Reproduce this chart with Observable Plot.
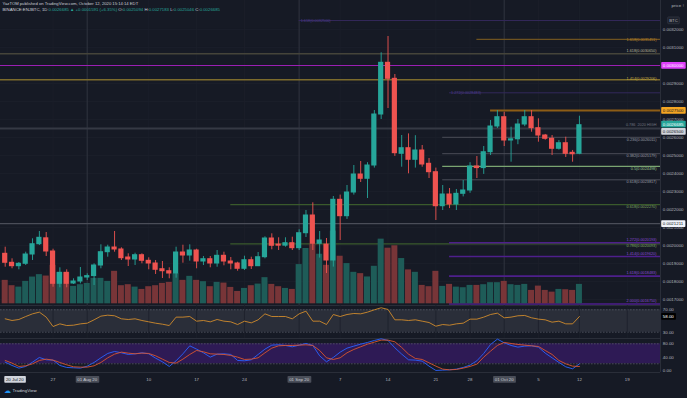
<!DOCTYPE html>
<html><head><meta charset="utf-8">
<script src="https://cdn.jsdelivr.net/npm/d3@7"></script>
<script src="https://cdn.jsdelivr.net/npm/@observablehq/plot@0.6"></script>
<style>
html,body{margin:0;padding:0;background:#161a25;}
#chart{position:relative;width:687px;height:398px;overflow:hidden;background:#161a25;}
#chart svg{position:absolute;left:0;}
</style></head><body><div id="chart"></div>
<script>
// ---- DATA (prices in units of 1e-7 BTC) ----
const headerLine1 = "YazTOM published on TradingView.com, October 12, 2020 15:14:14 EDT";
const headerLine2 = ["BINANCE:ENJBTC, 1D ", "0.0026685 ▲ +0.0001591 (+6.35%) ", "O:", "0.0025094 ", "H:", "0.0027183 ", "L:", "0.0025046 ", "C:", "0.0026685"];
const opens  = [19539,19039,18850,18983,19500,20072,20400,19667,17872,18483,17889,18000,18222,18300,18889,19628,19889,19778,19333,19222,19461,19150,19000,18683,18572,18444,19611,19444,19722,19111,19239,19000,19428,19111,19000,18706,19183,18850,19350,20389,20050,19990,20128,19850,20683,21667,20094,20050,19167,22539,21628,22944,23944,23706,24444,27278,30150,29261,25094,25406,24761,25278,24539,24072,22183,22833,22278,22872,23056,24389,24300,25183,26611,27128,25833,25900,26722,27128,26517,26111,25928,25372,25683,25150,25094];
const highs  = [19906,19261,19056,19628,20372,20778,20722,19794,18761,18650,18150,18778,18428,18983,20039,20017,20778,19872,19539,19572,19539,19317,19167,19111,18761,19906,20017,20039,19794,19389,19389,19722,19628,19333,19072,19406,19350,19611,20483,20650,20428,20428,20461,20872,21944,22372,20778,20389,22722,22800,23333,24444,24667,24600,27500,30706,31611,29500,26111,26200,26100,25556,24833,24300,23333,23167,23111,23611,24600,24944,25500,26944,27500,27400,26572,27000,27500,27500,27039,26170,26111,25830,26017,25280,27183];
const lows   = [18794,18706,18650,18889,19167,20000,19389,17683,17650,17650,17833,17870,18056,17778,18706,19350,19628,19167,18833,18889,18983,18650,18389,18167,18150,18183,19017,19128,18706,18889,18761,18794,18872,18650,18572,18611,18667,18830,19260,19761,19722,19906,19722,19722,20444,19722,19300,18444,18800,20278,21450,22800,23500,22611,24300,27000,27611,24950,24350,23983,24300,24350,23722,21389,21944,22050,21944,22700,22900,23722,23950,25000,26500,25500,24628,25600,26600,26294,25739,25850,25000,25300,24889,24628,25046];
const closes = [19039,18850,18983,19500,20072,20428,19667,17872,18483,17872,18000,18222,18300,18889,19628,19889,19778,19294,19222,19461,19150,19000,18650,18572,18444,19611,19444,19722,19111,19239,19000,19428,19111,19000,18706,19183,18850,19350,20389,19983,19990,20128,19850,20683,21667,20094,20278,19167,22539,21628,22944,23944,23706,24444,27278,30150,29261,25128,25406,24761,25278,24500,24072,22183,22833,22278,22872,23056,24389,24300,25183,26611,27128,25833,25900,26722,27128,26517,26111,25928,25372,25683,25094,25070,26685];
const volumes = [23.3,18,16.6,22.3,26.6,29,27.6,38.3,31,31,17.3,19,20.3,25.3,25.3,22.3,32.3,18,19,16.6,14.3,17,18,20.3,21.3,30,23.3,27.3,23.3,22,17,21.3,20.6,16.3,12.3,15.3,18,19.6,26,19.3,17,15.3,14.3,39,55,59,49.3,38.3,72.3,47.3,40,31.3,30,26.7,37.3,64.3,55.3,57.7,45,33.7,31.3,18.3,17,32.3,17.3,19.3,16.6,16,18.3,18.3,19,21,21,22.3,19,18.3,19.3,13.3,17.6,13.3,11.6,14.3,14,13.3,19.3];
const rsiValues = [53.9,50.9,52.7,58,62.8,65.8,56.9,40.1,44.9,41.9,42.5,44.9,46.1,52.1,58.7,60.4,59.3,53.9,52.7,53.9,50.9,48.5,46.1,44.3,41.9,56.9,56.9,58,49.7,50.9,48.5,52.7,49.7,48.5,43.7,49.7,46.7,52.1,62.8,58,58,58,53.9,62.8,67.6,49.7,49.7,43.7,61.6,58,61.6,63.4,62.8,65.8,70,73.6,70.6,52.1,52.1,50.9,52.1,49.7,47.3,40.7,43.7,42.5,44.9,46.1,53.3,53.3,56.9,61.6,64,55.7,56.9,59.3,59.9,55.7,53.3,52.1,47.9,49.7,44.9,44.9,58];
const stochK = [25,15,7,12,25,39,32,31,15,9,8,7,13,24,38,51,57,53,48,50,53,50,37,26,12,29,50,74,64,53,40,49,50,48,30,29,32,48,64,76,77,75,71,76,81,75,44,26,39,55,67,73,79,84,90,95,90,68,49,32,31,28,13,0,1,2,4,9,16,29,51,78,94,83,75,70,73,74,70,52,38,24,11,5,20];
const stochD = [30,22,12,14,20,30,34,31,24,17,11,10,10,14,24,38,49,55,52,50,52,51,44,34,24,22,34,48,60,56,50,49,48,45,40,33,34,38,53,67,74,75,75,76,77,75,60,38,33,38,53,63,71,79,85,91,91,86,69,49,36,33,23,13,4,2,3,7,12,19,40,58,75,84,81,78,76,74,72,60,48,30,20,13,12];
const priceTicks = [17000,18000,19000,20000,21000,22000,23000,24000,25000,26000,27000,28000,29000,30000,31000,32000];
const priceTickHidden = [30000];
const rsiTicks = [70, 30];
const stochTicks = [80, 40, 0];
const timeTickIndex  = [0, 7, 12, 21, 28, 35, 43, 49, 56, 63, 68, 73, 78, 84, 91];
const timeTickLabels = ["20 Jul 20", "27", "01 Aug 20", "10", "17", "24", "01 Sep 20", "7", "14", "21", "28", "01 Oct 20", "5", "12", "19"];
const timeTickKind   = ["first", "plain", "month", "plain", "plain", "plain", "month", "plain", "plain", "plain", "plain", "month", "plain", "plain", "plain"];
const levelPrices = [32500, 31451, 30650, 30000, 29206, 28483, 27500, 26500, 26011, 25100, 24400, 23650, 22270, 21211, 20093, 20150, 19389, 18300, 16750];
const levelStarts = [43, 69, null, null, null, 65, 71, null, 64, 64, 64, 64, 33, null, 33, 65, 65, 65, 65];
const levelLabels = ["1.618(0.0032500)", "1.618(0.0031451)", "1.618(0.0030650)", "", "1.414(0.0029206)", "1.272(0.0028483)", "", "0.786  2020 HIGH", "0.236(0.0026011)", "0.382(0.0025179)", "0.5(0.0024498)", "0.618(0.0023817)", "0.618(0.0022270)", "", "0.786(0.0020093)", "1.272(0.0020193)", "1.414(0.0019620)", "1.618(0.0018483)", "2.000(0.0016750)"];
const levelKinds  = ["extTop", "orangeFib", "olive", "magenta", "gold", "extTop", "orange", "high", "retr", "retr", "retrMid", "retr", "green", "white", "green", "purple", "purple", "purple", "purple"];
const markerPrices = [30000, 27500, 26685, 26500, 21211];
const markerTexts  = ["0.0030000", "0.0027500", "0.0026685", "0.0026500", "0.0021211"];
const markerKinds  = ["magenta", "orange", "last", "high", "white"];

// ---- styles ----
const PX = 1e-7;
const BG = "#161a25", GRID = "#1c202b", AXIS = "#b2b5be", UP = "#26a69a", DOWN = "#ef5350";
const FONT = "Liberation Sans, Arial, sans-serif";
const X0 = -0.6875, X1 = 95.86;
const kindStyle = {
  extTop:   {stroke: "#33285a", text: "#4d3d8e", w: 1,   side: "left",  dy: 0},
  orangeFib:{stroke: "#6e5220", text: "#c18b2c", w: 1.2, side: "right", dy: 0},
  olive:    {stroke: "#45443a", text: "#b9b59b", w: 1.6, side: "right", dy: -2.6},
  magenta:  {stroke: "#9b1fb3", w: 1.2},
  gold:     {stroke: "#7c6b2c", text: "#c9ad45", w: 1.6, side: "right", dy: -1},
  orange:   {stroke: "#8d5d16", w: 1.8},
  high:     {stroke: "#353944", text: "#70737f", w: 2,   side: "right", dy: -3.6},
  retr:     {stroke: "#4a4d57", text: "#9a9da6", w: 1,   side: "right", dy: 2.2},
  retrMid:  {stroke: "#7aa571", text: "#9cc592", w: 1.2, side: "right", dy: 2.2},
  green:    {stroke: "#3a5a2c", text: "#80a765", w: 1.2, side: "right", dy: 2.2},
  white:    {stroke: "#4a4d58", w: 1.2},
  purple:   {stroke: "#4e1f8c", text: "#8a4ad6", w: 1.6, side: "right", dy: -3}
};
const markerStyle = {
  magenta: {bg: "#e040fb", fg: "#ffffff", dy: 0},
  orange:  {bg: "#f5a623", fg: "#131722", dy: 0},
  last:    {bg: "#26a69a", fg: "#ffffff", dy: -1},
  high:    {bg: "#d1d4dc", fg: "#131722", dy: 3},
  white:   {bg: "#f0f3fa", fg: "#131722", dy: 0}
};

const candles = opens.map((o, i) => ({i, o: o * PX, h: highs[i] * PX, l: lows[i] * PX, c: closes[i] * PX, v: volumes[i]}));
const levels = levelPrices.map((p, k) => ({price: p * PX, start: levelStarts[k], label: levelLabels[k], kind: levelKinds[k]}));
const markers = markerPrices.map((p, k) => ({price: p * PX, text: markerTexts[k], kind: markerKinds[k]}));
const rsi = rsiValues.map((v, i) => ({i, v}));
const stK = stochK.map((v, i) => ({i, v}));
const stD = stochD.map((v, i) => ({i, v}));
const ticks = timeTickIndex.map((i, k) => ({i, label: timeTickLabels[k], kind: timeTickKind[k]}));
const monthStarts = ticks.filter(d => d.kind === "month").map(d => d.i);
const gridX = ticks.filter(d => d.kind === "plain").map(d => d.i);

const chart = document.getElementById("chart");
function common(height, y, extra = {}) {
  return Object.assign({
    width: 687, height, marginLeft: 0, marginRight: 27, marginTop: 0, marginBottom: 0,
    x: {type: "linear", domain: [X0, X1], axis: null}, y,
    style: {background: "transparent", fontFamily: FONT, fontSize: "4.4px", color: AXIS, overflow: "visible"}
  }, extra);
}
function place(svg, top) { svg.style.top = top + "px"; chart.appendChild(svg); return svg; }
// draws a label box behind every text element whose content equals `content`
function boxText(svg, content, fill, stroke, padX = 1.6, padY = 0.9) {
  d3.select(svg).selectAll("text").filter(function () { return this.textContent === content; }).each(function () {
    const b = this.getBBox();
    const r = document.createElementNS("http://www.w3.org/2000/svg", "rect");
    r.setAttribute("x", b.x - padX); r.setAttribute("y", b.y - padY);
    r.setAttribute("width", b.width + 2 * padX); r.setAttribute("height", b.height + 2 * padY);
    r.setAttribute("fill", fill); r.setAttribute("rx", 0.8);
    if (stroke) { r.setAttribute("stroke", stroke); r.setAttribute("stroke-width", 0.6); }
    const t = this.getAttribute("transform"); if (t) r.setAttribute("transform", t);
    this.parentNode.insertBefore(r, this);
  });
}

// ---- MAIN PANE background, grid, levels, price axis ----
const yMain = {type: "linear", domain: [0.00166667, 0.00336111], axis: null};
const labelKinds = [...new Set(levels.filter(d => d.label).map(d => d.kind))];
const mainMarks = [
  Plot.ruleY(priceTicks.map(p => p * PX), {stroke: GRID, strokeWidth: 0.8}),
  Plot.ruleX(gridX, {stroke: GRID, strokeWidth: 0.8}),
  Plot.ruleX(monthStarts, {stroke: "#2c303b", strokeWidth: 1.2}),
  Plot.ruleY(levels, {y: "price", x1: d => d.start ?? X0, x2: () => X1, stroke: d => kindStyle[d.kind].stroke, strokeWidth: d => kindStyle[d.kind].w}),
  ...labelKinds.map(k => {
    const s = kindStyle[k];
    const data = levels.filter(d => d.kind === k && d.label);
    return s.side === "left"
      ? Plot.text(data, {x: "start", y: "price", text: "label", textAnchor: "start", dx: 1.5, dy: s.dy, fill: s.text, fontSize: 3.8})
      : Plot.text(data, {x: () => X1, y: "price", text: "label", textAnchor: "end", dx: -4, dy: s.dy, fill: s.text, fontSize: 3.8});
  }),
  Plot.ruleX([X1], {stroke: "#2a2e39", strokeWidth: 1}),
  Plot.axisY(priceTicks.filter(p => !priceTickHidden.includes(p)).map(p => p * PX), {anchor: "right", tickSize: 0, tickPadding: 2.3, tickFormat: d => d.toFixed(7), fontSize: 4.4, fill: AXIS}),
  ...markers.map(m => Plot.text([m], {x: () => X1, y: "price", text: "text", textAnchor: "start", dx: 2.3, dy: markerStyle[m.kind].dy, fill: markerStyle[m.kind].fg, fontSize: 4.4})),
  Plot.text(["BTC"], {frameAnchor: "top-right", dx: 13, dy: 20, textAnchor: "middle", lineAnchor: "middle", fill: AXIS, fontSize: 4.2}),
  Plot.text([headerLine1], {frameAnchor: "top-left", dx: 2, dy: 3.2, textAnchor: "start", lineAnchor: "middle", fill: "#c8cbd3", fontSize: 4.2}),
  Plot.text([headerLine2.join("")], {frameAnchor: "top-left", dx: 2, dy: 9.6, textAnchor: "start", lineAnchor: "middle", fill: "#d1d4dc", fontSize: 4.3})
];
const mainSvg = place(Plot.plot(common(305, yMain, {style: {background: BG, fontFamily: FONT, fontSize: "4.4px", color: AXIS, overflow: "visible"}, marks: mainMarks})), 0);
markers.forEach(m => boxText(mainSvg, m.text, markerStyle[m.kind].bg));
boxText(mainSvg, "BTC", "#1e222d", "#3a3e49");
// colour the second header line
d3.select(mainSvg).selectAll("text").filter(function () { return this.textContent === headerLine2.join(""); }).each(function () {
  const t = d3.select(this); t.text("");
  headerLine2.forEach((seg, k) => t.append("tspan").attr("fill", k % 2 === 1 ? UP : "#d1d4dc").text(seg));
});

// ---- VOLUME overlay ----
place(Plot.plot(common(305, {type: "linear", domain: [0, 301.6], axis: null}, {marginBottom: 1.7, marks: [
  Plot.rect(candles, {x1: d => d.i - 0.44, x2: d => d.i + 0.44, y1: 0, y2: "v", fill: d => d.c >= d.o ? "#1e5c58" : "#783538"})
]})), 0);

// ---- CANDLES overlay ----
place(Plot.plot(common(305, yMain, {marks: [
  Plot.ruleX(candles, {x: "i", y1: "l", y2: "h", stroke: d => d.c >= d.o ? UP : DOWN, strokeWidth: 0.9}),
  Plot.rect(candles, {x1: d => d.i - 0.38, x2: d => d.i + 0.38, y1: d => Math.min(d.o, d.c), y2: d => Math.max(d.o, d.c), fill: d => d.c >= d.o ? UP : DOWN, insetTop: -0.5, insetBottom: -0.5})
]})), 0);

// ---- RSI PANE ----
const rsiLast = rsi[rsi.length - 1];
const rsiSvg = place(Plot.plot(common(33, {type: "linear", domain: [18.75, 77.68], axis: null}, {marks: [
  Plot.ruleY([77.68], {stroke: "#2a2e39", strokeWidth: 1.2}),
  Plot.rect([0], {x1: () => X0, x2: () => X1, y1: 30, y2: 70, fill: "#2a2e39"}),
  Plot.ruleY([30, 70], {stroke: "#5d606b", strokeWidth: 0.7, strokeDasharray: "1.6,1.4"}),
  Plot.ruleX(gridX.concat(monthStarts), {stroke: GRID, strokeWidth: 0.8}),
  Plot.line(rsi, {x: "i", y: "v", stroke: "#d08b2c", strokeWidth: 0.9}),
  Plot.ruleX([X1], {stroke: "#2a2e39", strokeWidth: 1}),
  Plot.text(rsiTicks, {x: () => X1, y: d => d, text: d => d.toFixed(2), textAnchor: "start", dx: 2.3, fill: AXIS, fontSize: 4.4}),
  Plot.text([rsiLast], {x: () => X1, y: "v", text: d => d.v.toFixed(2), textAnchor: "start", dx: 2.3, fill: "#ffffff", fontSize: 4.4})
]})), 305);
boxText(rsiSvg, rsiLast.v.toFixed(2), "#000000");

// ---- STOCH RSI PANE ----
place(Plot.plot(common(34, {type: "linear", domain: [-6.1, 95.9], axis: null}, {marks: [
  Plot.ruleY([95.9], {stroke: "#2a2e39", strokeWidth: 1.2}),
  Plot.rect([0], {x1: () => X0, x2: () => X1, y1: 20, y2: 80, fill: "#2e1a55"}),
  Plot.ruleY([20, 80], {stroke: "#5d606b", strokeWidth: 0.7, strokeDasharray: "1.6,1.4"}),
  Plot.line(stK, {x: "i", y: "v", stroke: "#2962ff", strokeWidth: 0.9}),
  Plot.line(stD, {x: "i", y: "v", stroke: "#d9552f", strokeWidth: 0.9}),
  Plot.ruleX([X1], {stroke: "#2a2e39", strokeWidth: 1}),
  Plot.text(stochTicks, {x: () => X1, y: d => d, text: d => d.toFixed(2), textAnchor: "start", dx: 2.3, fill: AXIS, fontSize: 4.4})
]})), 338);

// ---- TIME AXIS ----
const timeSvg = place(Plot.plot(common(26, {type: "linear", domain: [0, 26], axis: null}, {marks: [
  Plot.ruleY([26], {stroke: "#2a2e39", strokeWidth: 1.2}),
  Plot.text(ticks.filter(d => d.kind === "plain"), {x: "i", y: () => 19, text: "label", fill: AXIS, fontSize: 4.4}),
  Plot.text(ticks.filter(d => d.kind === "month"), {x: "i", y: () => 19, text: "label", fill: "#c9ccd4", fontSize: 4.4}),
  Plot.text(ticks.filter(d => d.kind === "first"), {x: "i", y: () => 19, dx: 9.6, text: "label", fill: "#131722", fontSize: 4.4}),
  Plot.text(["TradingView"], {frameAnchor: "bottom-left", dx: 12, dy: -7.5, textAnchor: "start", lineAnchor: "middle", fill: "#d1d4dc", fontSize: 4.4}),
  Plot.text(["☁"], {frameAnchor: "bottom-left", dx: 3, dy: -7.5, textAnchor: "start", lineAnchor: "middle", fill: "#2196f3", fontSize: 7})
]})), 372);
ticks.filter(d => d.kind === "month").forEach(d => boxText(timeSvg, d.label, "#4a4e59"));
ticks.filter(d => d.kind === "first").forEach(d => boxText(timeSvg, d.label, "#d1d4dc"));
</script></body></html>
